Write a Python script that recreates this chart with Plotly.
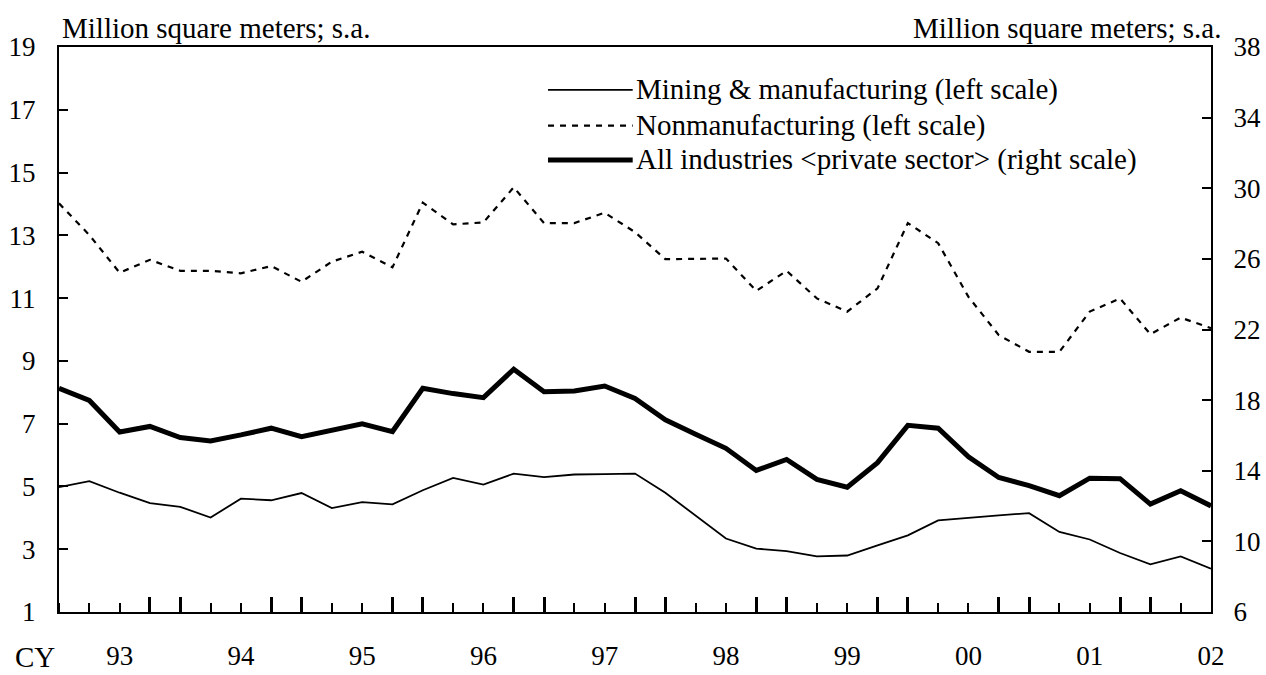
"""Floor area of building starts: mining & manufacturing, nonmanufacturing, all industries."""
import plotly.graph_objects as go

# quarterly values, 1993 Q1 .. 2002 Q3 (million square meters, s.a.)
mining = [4.98, 5.17, 4.80, 4.47, 4.35, 4.01, 4.61, 4.56, 4.79, 4.31,
          4.50, 4.43, 4.88, 5.27, 5.06, 5.41, 5.30, 5.38, 5.39, 5.41,
          4.80, 4.08, 3.34, 3.02, 2.94, 2.77, 2.80, 3.12, 3.44, 3.92,
          4.01, 4.08, 4.15, 3.55, 3.31, 2.88, 2.52, 2.77, 2.38]
nonmanuf = [14.02, 13.01, 11.81, 12.22, 11.87, 11.87, 11.79, 12.02, 11.52, 12.16,
            12.48, 11.98, 14.04, 13.35, 13.41, 14.53, 13.39, 13.39, 13.72, 13.10,
            12.24, 12.24, 12.26, 11.23, 11.87, 10.99, 10.57, 11.31, 13.39, 12.75,
            11.04, 9.82, 9.29, 9.29, 10.57, 10.99, 9.85, 10.38, 10.04]
all_ind = [18.67, 17.98, 16.19, 16.51, 15.88, 15.69, 16.03, 16.41, 15.93, 16.32,
           16.66, 16.22, 18.67, 18.37, 18.14, 19.75, 18.48, 18.52, 18.80, 18.10,
           16.89, 16.07, 15.27, 14.02, 14.64, 13.51, 13.07, 14.46, 16.57, 16.41,
           14.79, 13.62, 13.16, 12.59, 13.58, 13.55, 12.11, 12.87, 12.01]
years = ["93", "94", "95", "96", "97", "98", "99", "00", "01", "02"]

names = [
    "Mining & manufacturing (left scale)",
    "Nonmanufacturing (left scale)",
    "All industries &lt;private sector&gt; (right scale)",
]

FONT = "Liberation Serif, Times New Roman, serif"
FS = 29

q = list(range(len(mining)))
n = len(q) - 1
thick_ticks = [i for i in range(n) if i % 4 in (0, 3)]
year_pos = [2 + 4 * k for k in range(len(years))]

fig = go.Figure()
fig.add_trace(go.Scatter(x=q, y=mining, mode="lines", name=names[0],
                         line=dict(color="black", width=1.8)))
fig.add_trace(go.Scatter(x=q, y=nonmanuf, mode="lines", name=names[1],
                         line=dict(color="black", width=2.2, dash="6px,6px")))
# right-scale series lives on the x2/y2 pair (x2 carries the thick year ticks)
fig.add_trace(go.Scatter(x=q, y=all_ind, mode="lines", name=names[2],
                         xaxis="x2", yaxis="y2",
                         line=dict(color="black", width=5)))

# hand-made legend, to get the long line samples of the original
styles = [dict(width=1.8), dict(width=2.2, dash="6px,6px"), dict(width=5)]
leg_y = [0.924, 0.861, 0.800]
for name, st, yy in zip(names, styles, leg_y):
    fig.add_shape(type="line", xref="paper", yref="paper", x0=0.4245, x1=0.498,
                  y0=yy, y1=yy, line=dict(color="black", **st))
    fig.add_annotation(text=name, xref="paper", yref="paper", x=0.4995, y=yy,
                       xanchor="left", yanchor="middle", showarrow=False,
                       font=dict(family=FONT, size=FS, color="black"))

for txt, x, anchor in [("Million square meters; s.a.", 0.0005, "left"),
                       ("Million square meters; s.a.", 1.0105, "right")]:
    fig.add_annotation(text=txt, xref="paper", yref="paper", x=x, y=1.034,
                       xanchor=anchor, yanchor="middle", showarrow=False,
                       font=dict(family=FONT, size=FS, color="black"))
fig.add_annotation(text="CY", xref="paper", yref="paper", x=-0.021, y=-0.111,
                   xanchor="center", yanchor="bottom", showarrow=False,
                   font=dict(family=FONT, size=FS, color="black"))

axis_font = dict(family=FONT, size=27, color="black")
fig.update_layout(
    width=1266, height=675,
    margin=dict(l=59, r=55, t=47, b=63),
    paper_bgcolor="white", plot_bgcolor="white",
    showlegend=False,
    font=axis_font,
    xaxis=dict(
        range=[0, n], showgrid=False, zeroline=False, automargin=False,
        showline=True, linecolor="black", linewidth=2, mirror=True,
        tickmode="array", tickvals=year_pos, ticktext=years, ticks="",
        ticklabelstandoff=19, tickfont=axis_font,
        minor=dict(tickmode="array", tickvals=q[:-1], ticks="inside",
                   ticklen=9, tickwidth=1.6, tickcolor="black", showgrid=False),
    ),
    xaxis2=dict(
        overlaying="x", anchor="y2", side="bottom", range=[0, n],
        showgrid=False, zeroline=False, showline=False, automargin=False,
        tickmode="array", tickvals=thick_ticks, showticklabels=False,
        ticks="inside", ticklen=15, tickwidth=3, tickcolor="black",
    ),
    yaxis=dict(
        range=[1, 19], dtick=2, tick0=1, showgrid=False, zeroline=False,
        showline=True, linecolor="black", linewidth=2, automargin=False,
        ticks="inside", ticklen=9, tickwidth=2, tickcolor="black",
        ticklabelstandoff=16, tickfont=axis_font,
    ),
    yaxis2=dict(
        overlaying="y", side="right", range=[6, 38], dtick=4, tick0=6,
        showgrid=False, zeroline=False, automargin=False,
        showline=True, linecolor="black", linewidth=2,
        ticks="inside", ticklen=9, tickwidth=2, tickcolor="black",
        ticklabelstandoff=15, tickfont=axis_font,
    ),
)

# drop the default 8px body margin so the figure fills the window exactly
fig.write_html("out.html", config={"displayModeBar": False},
               post_script="document.body.style.margin = '0';")
